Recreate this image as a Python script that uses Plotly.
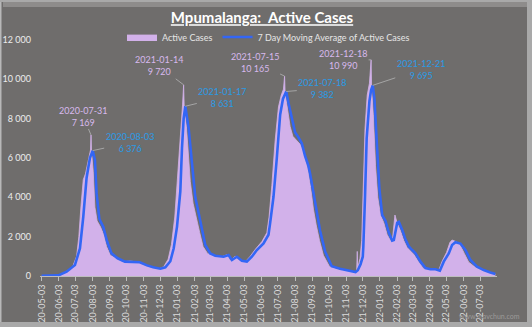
import plotly.graph_objects as go

# ---------------- data ----------------
active_dates = [
    "2020-05-03", "2020-05-30", "2020-06-14", "2020-06-28", "2020-07-05", "2020-07-09",
    "2020-07-13", "2020-07-17", "2020-07-21", "2020-07-25", "2020-07-28", "2020-07-30",
    "2020-07-31", "2020-08-01", "2020-08-04", "2020-08-07", "2020-08-11", "2020-08-17",
    "2020-08-23", "2020-08-28", "2020-09-04", "2020-09-13", "2020-09-26", "2020-10-10",
    "2020-10-24", "2020-11-06", "2020-11-18", "2020-12-01", "2020-12-09", "2020-12-17",
    "2020-12-23", "2020-12-29", "2021-01-04", "2021-01-08", "2021-01-12", "2021-01-14",
    "2021-01-15", "2021-01-19", "2021-01-22", "2021-01-26", "2021-01-31", "2021-02-06",
    "2021-02-12", "2021-02-18", "2021-02-26", "2021-03-09", "2021-03-24", "2021-04-02",
    "2021-04-08", "2021-04-17", "2021-04-26", "2021-05-05", "2021-05-14", "2021-05-23",
    "2021-06-04", "2021-06-13", "2021-06-17", "2021-06-22", "2021-06-28", "2021-07-04",
    "2021-07-09", "2021-07-13", "2021-07-15", "2021-07-16", "2021-07-20", "2021-07-25",
    "2021-07-30", "2021-08-06", "2021-08-12", "2021-08-18", "2021-08-22", "2021-08-26",
    "2021-08-31", "2021-09-05", "2021-09-10", "2021-09-16", "2021-09-23", "2021-10-04",
    "2021-10-20", "2021-11-04", "2021-11-18", "2021-11-22", "2021-11-23", "2021-11-24",
    "2021-11-28", "2021-12-01", "2021-12-04", "2021-12-07", "2021-12-11", "2021-12-15",
    "2021-12-18", "2021-12-19", "2021-12-22", "2021-12-26", "2021-12-30", "2022-01-04",
    "2022-01-10", "2022-01-16", "2022-01-22", "2022-01-26", "2022-01-30", "2022-02-03",
    "2022-02-09", "2022-02-15", "2022-02-21", "2022-02-27", "2022-03-05", "2022-03-13",
    "2022-03-22", "2022-04-01", "2022-04-12", "2022-04-19", "2022-04-25", "2022-05-03",
    "2022-05-09", "2022-05-13", "2022-05-20", "2022-05-28", "2022-06-04", "2022-06-12",
    "2022-06-24", "2022-07-06", "2022-07-18", "2022-07-30",
]
active_values = [
    0, 20, 180, 480, 1000, 2000,
    3600, 4900, 5200, 5700, 6200, 6400,
    7169, 6300, 5300, 3500, 2800, 2500,
    2100, 1500, 1050, 900, 720, 760,
    700, 520, 420, 370, 470, 850,
    1600, 3000, 5300, 7200, 8700, 9720,
    8600, 7600, 6200, 4800, 3700, 2900,
    2200, 1500, 1150, 1030, 980, 1080,
    800, 1000, 760, 720, 1000, 1350,
    1750, 2200, 3000, 4600, 6900, 8600,
    9200, 9500, 10165, 9300, 8500, 7600,
    7100, 6900, 6700, 6300, 5800, 5400,
    4500, 3400, 2600, 1800, 1050, 480,
    360, 280, 200, 250, 1250, 400,
    900, 1800, 4500, 7500, 9200, 9800,
    10990, 9500, 8200, 5600, 4000, 3100,
    2700, 2100, 1800, 2000, 3100, 2700,
    2300, 1800, 1450, 1300, 1100, 750,
    400, 340, 330, 300, 750, 1200,
    1700, 1830, 1750, 1550, 1150, 700,
    440, 280, 160, 90,
]

ma_dates = [
    "2020-05-03", "2020-06-02", "2020-06-17", "2020-07-02", "2020-07-11", "2020-07-17",
    "2020-07-23", "2020-07-29", "2020-08-03", "2020-08-07", "2020-08-10", "2020-08-15",
    "2020-08-22", "2020-08-29", "2020-09-06", "2020-09-17", "2020-09-30", "2020-10-15",
    "2020-10-27", "2020-11-09", "2020-11-20", "2020-12-03", "2020-12-12", "2020-12-21",
    "2020-12-27", "2021-01-02", "2021-01-08", "2021-01-11", "2021-01-14", "2021-01-17",
    "2021-01-23", "2021-01-29", "2021-02-04", "2021-02-10", "2021-02-16", "2021-02-22",
    "2021-03-03", "2021-03-12", "2021-03-27", "2021-04-05", "2021-04-11", "2021-04-20",
    "2021-04-29", "2021-05-08", "2021-05-17", "2021-05-26", "2021-06-07", "2021-06-16",
    "2021-06-19", "2021-06-25", "2021-07-01", "2021-07-07", "2021-07-12", "2021-07-18",
    "2021-07-22", "2021-07-29", "2021-08-03", "2021-08-09", "2021-08-15", "2021-08-21",
    "2021-08-27", "2021-08-30", "2021-09-05", "2021-09-11", "2021-09-17", "2021-09-26",
    "2021-10-08", "2021-10-23", "2021-11-07", "2021-11-20", "2021-11-24", "2021-11-29",
    "2021-12-03", "2021-12-04", "2021-12-07", "2021-12-10", "2021-12-15", "2021-12-18",
    "2021-12-21", "2021-12-24", "2021-12-29", "2022-01-02", "2022-01-07", "2022-01-13",
    "2022-01-19", "2022-01-25", "2022-01-28", "2022-02-03", "2022-02-06", "2022-02-12",
    "2022-02-18", "2022-02-24", "2022-03-02", "2022-03-08", "2022-03-17", "2022-03-26",
    "2022-04-04", "2022-04-13", "2022-04-21", "2022-04-28", "2022-05-07", "2022-05-13",
    "2022-05-19", "2022-05-28", "2022-06-06", "2022-06-15", "2022-06-27", "2022-07-09",
    "2022-07-21", "2022-07-30",
]
ma_values = [
    10, 30, 220, 560, 1400, 3000,
    5000, 6000, 6376, 5900, 4200, 2900,
    2500, 1750, 1150, 900, 730, 730,
    700, 540, 440, 370, 440, 750,
    1400, 2500, 4300, 6500, 8000, 8631,
    7500, 5750, 4000, 3200, 2340, 1580,
    1150, 1030, 980, 1070, 815, 980,
    780, 730, 980, 1320, 1660, 2100,
    2700, 4030, 6000, 8200, 9000, 9382,
    8800, 7900, 7300, 7050, 6750, 6100,
    5600, 5200, 4200, 3200, 2300, 1250,
    500, 370, 280, 200, 290, 600,
    980, 1500, 4000, 7000, 8900, 9450,
    9695, 9000, 6400, 4400, 3100, 2800,
    2200, 1800, 1830, 2700, 2750, 2350,
    1850, 1500, 1320, 1150, 730, 400,
    340, 340, 270, 730, 1150, 1580,
    1720, 1650, 1320, 815, 475, 300,
    180, 100,
]

# peak labels
active_peak_dates = ["2020-07-31", "2021-01-14", "2021-07-15", "2021-12-18"]
active_peak_values = [7169, 9720, 10165, 10990]
ma_peak_dates = ["2020-08-03", "2021-01-17", "2021-07-18", "2021-12-21"]
ma_peak_values = [6376, 8631, 9382, 9695]

x_tick_dates = [
    "2020-05-03", "2020-06-03", "2020-07-03", "2020-08-03", "2020-09-03", "2020-10-03",
    "2020-11-03", "2020-12-03", "2021-01-03", "2021-02-03", "2021-03-03", "2021-04-03",
    "2021-05-03", "2021-06-03", "2021-07-03", "2021-08-03", "2021-09-03", "2021-10-03",
    "2021-11-03", "2021-12-03", "2022-01-03", "2022-02-03", "2022-03-03", "2022-04-03",
    "2022-05-03", "2022-06-03", "2022-07-03",
]
x_tick_labels = [d[2:] for d in x_tick_dates]
y_tick_values = [0, 2000, 4000, 6000, 8000, 10000, 12000]
y_tick_labels = ["0", "2 000", "4 000", "6 000", "8 000", "10 000", "12 000"]

# ---------------- styling ----------------
W, H = 532, 327
ML, MR, MT, MB = 40, 35, 40, 51
PW, PH = W - ML - MR, H - MT - MB
BG = "#6f6d6c"
FRAME = "#a9a9a9"
VIOLET = "#d2b1ea"
BLUE = "#3366f5"
LBL_VIOLET = "#d8b9ee"
LBL_BLUE = "#2a9be6"
FONT = "Lato"


def px_x(px):
    return (px - ML) / PW


def px_y(py):
    return (H - MB - py) / PH


def fmt(v):
    return f"{v:,}".replace(",", " ")


fig = go.Figure()
fig.add_trace(go.Scatter(
    x=active_dates, y=active_values, name="Active Cases",
    mode="lines", fill="tozeroy", fillcolor=VIOLET,
    line=dict(color=VIOLET, width=0.8),
))
fig.add_trace(go.Scatter(
    x=ma_dates, y=ma_values, name="7 Day Moving Average of Active Cases",
    mode="lines", line=dict(color=BLUE, width=2.6),
))

annotations = []
act_offsets = [(-8, -19), (-25, -19), (-30, -14), (-28, 0)]
ma_offsets = [(37, -8), (37, -9), (36, -3), (48, -16)]
for (d, v), (ax, ay) in zip(zip(active_peak_dates, active_peak_values), act_offsets):
    annotations.append(dict(
        x=d, y=v, xref="x", yref="y", text=f"{d}<br>{fmt(v)}",
        showarrow=True, arrowhead=0, arrowwidth=1, arrowcolor="#a5a5a5",
        ax=ax, ay=ay, standoff=0, font=dict(family=FONT, size=9, color=LBL_VIOLET),
    ))
for (d, v), (ax, ay) in zip(zip(ma_peak_dates, ma_peak_values), ma_offsets):
    annotations.append(dict(
        x=d, y=v, xref="x", yref="y", text=f"{d}<br>{fmt(v)}",
        showarrow=True, arrowhead=0, arrowwidth=1, arrowcolor="#a5a5a5",
        ax=ax, ay=ay, standoff=0, font=dict(family=FONT, size=9, color=LBL_BLUE),
    ))
annotations.append(dict(
    x=px_x(522), y=px_y(316), xref="paper", yref="paper", xanchor="right", yanchor="middle",
    text="www.mavchun.com", showarrow=False,
    font=dict(family=FONT, size=7, color="#9c9a99"),
))

shapes = [
    # frame bands (left, right, bottom, top)
    dict(type="rect", xref="paper", yref="paper", layer="above",
         x0=px_x(0), x1=px_x(1.5), y0=px_y(H), y1=px_y(0),
         fillcolor="#b8b8b8", line=dict(width=0)),
    dict(type="rect", xref="paper", yref="paper", layer="above",
         x0=px_x(527), x1=px_x(W), y0=px_y(H), y1=px_y(0),
         fillcolor=FRAME, line=dict(width=0)),
    dict(type="rect", xref="paper", yref="paper", layer="above",
         x0=px_x(0), x1=px_x(W), y0=px_y(H), y1=px_y(322),
         fillcolor=FRAME, line=dict(width=0)),
    dict(type="rect", xref="paper", yref="paper", layer="above",
         x0=px_x(0), x1=px_x(W), y0=px_y(2), y1=px_y(0),
         fillcolor=FRAME, line=dict(width=0)),
    dict(type="rect", xref="paper", yref="paper", layer="above",
         x0=px_x(3), x1=px_x(527), y0=px_y(7), y1=px_y(2),
         fillcolor="#8e8c8b", line=dict(width=0)),
]

fig.update_layout(
    width=W, height=H,
    margin=dict(l=ML, r=MR, t=MT, b=MB, pad=0, autoexpand=False),
    paper_bgcolor=BG, plot_bgcolor=BG,
    font=dict(family=FONT, size=9, color="#e6e6e6"),
    title=dict(
        text="<b><u>Mpumalanga:\u00a0 Active Cases</u></b>",
        x=262 / W, xref="container", xanchor="center",
        y=1 - 18 / H, yref="container", yanchor="middle",
        font=dict(family=FONT, size=15, color="#ffffff"),
    ),
    legend=dict(
        orientation="h", x=0.5, xanchor="center", y=px_y(37), yanchor="middle",
        bgcolor="rgba(0,0,0,0)", font=dict(family=FONT, size=9, color="#e6e6e6"),
        itemwidth=30, tracegroupgap=0,
    ),
    showlegend=True,
    annotations=annotations,
    shapes=shapes,
    xaxis=dict(
        type="date", range=["2020-04-30", "2022-08-02"], automargin=False,
        tickmode="array", tickvals=x_tick_dates, ticktext=x_tick_labels,
        tickangle=-90, tickfont=dict(family=FONT, size=9, color="#dcdcdc"),
        showgrid=False, zeroline=False, showline=True, linecolor="#bdbdbd", linewidth=1,
        ticks="outside", ticklen=4, tickcolor="#bdbdbd", tickwidth=1,
    ),
    yaxis=dict(
        range=[0, 12000], tickmode="array", tickvals=y_tick_values, ticktext=y_tick_labels,
        automargin=False,
        tickfont=dict(family=FONT, size=9, color="#ececec"),
        showgrid=False, zeroline=False, showline=False, ticks="",
        ticklabelstandoff=8,
    ),
)

fig.write_html(
    "out.html",
    config={"displayModeBar": False},
    post_script="document.body.style.margin='0';document.body.style.overflow='hidden';"
                "document.documentElement.style.overflow='hidden';",
)
